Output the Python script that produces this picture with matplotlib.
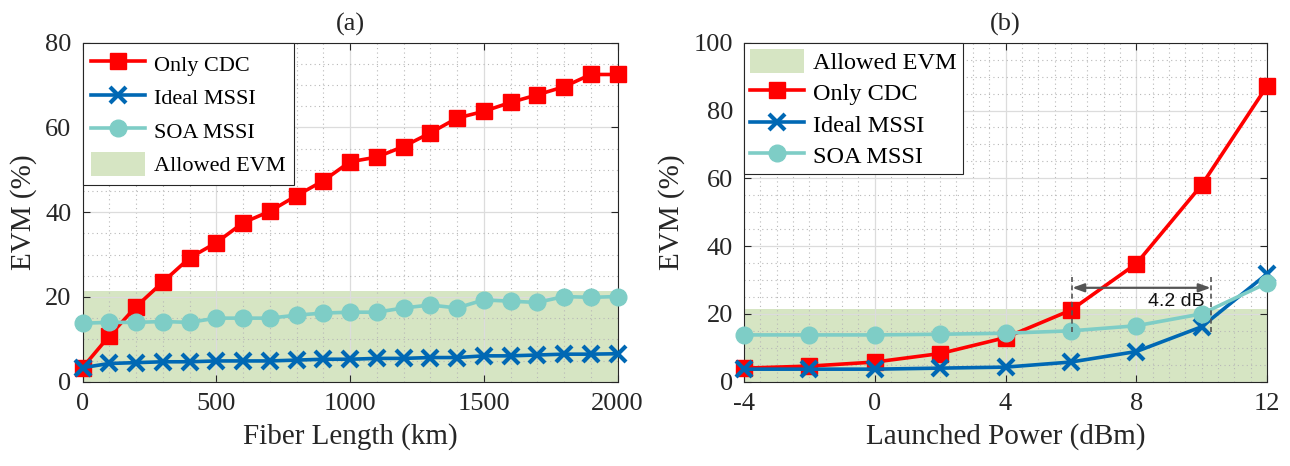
import matplotlib
matplotlib.use("Agg")
import matplotlib.pyplot as plt
from matplotlib.patches import Patch
from matplotlib.lines import Line2D
from matplotlib.ticker import MultipleLocator

plt.rcParams['font.family'] = ['Liberation Serif', 'DejaVu Serif']
plt.rcParams['axes.unicode_minus'] = False

# ---------------- data (a) ----------------
fiber_length = [0, 100, 200, 300, 400, 500, 600, 700, 800, 900, 1000,
                1100, 1200, 1300, 1400, 1500, 1600, 1700, 1800, 1900, 2000]
a_only_cdc = [3.3, 10.8, 17.7, 23.5, 29.2, 32.8, 37.5, 40.2, 43.9, 47.4, 51.9,
              53.0, 55.5, 58.7, 62.2, 63.8, 65.9, 67.7, 69.6, 72.5, 72.5]
a_ideal_mssi = [3.3, 4.3, 4.5, 4.7, 4.7, 4.9, 4.9, 4.9, 5.1, 5.3, 5.3,
                5.5, 5.5, 5.7, 5.7, 6.1, 6.1, 6.3, 6.5, 6.5, 6.6]
a_soa_mssi = [13.8, 14.0, 14.0, 14.2, 14.0, 15.0, 15.0, 15.0, 15.7, 16.2, 16.4,
              16.4, 17.4, 18.1, 17.4, 19.3, 19.0, 18.7, 20.1, 19.9, 20.1]

# ---------------- data (b) ----------------
launched_power = [-4, -2, 0, 2, 4, 6, 8, 10, 12]
b_only_cdc = [4.0, 4.6, 5.8, 8.3, 13.0, 21.1, 34.8, 58.0, 87.2]
b_ideal_mssi = [3.7, 3.7, 3.7, 4.0, 4.3, 5.8, 8.9, 16.2, 31.8]
b_soa_mssi = [13.8, 13.8, 13.8, 14.0, 14.3, 15.0, 16.5, 20.0, 29.1]

allowed_evm = 21.5
gap_start, gap_end, gap_y = 6.04, 10.28, 27.7
gap_label = "4.2 dB"

RED = '#FF0000'
BLUE = '#0068B4'
TEAL = '#7ECDC6'
GREEN = '#D6E5C3'
TXT = '#262626'

W, H = 1290, 466
fig = plt.figure(figsize=(W / 100, H / 100), dpi=100)

axA = fig.add_axes([82.5 / W, (H - 381.7) / H, 535 / W, 339 / H])
axB = fig.add_axes([744 / W, (H - 381.7) / H, 523 / W, 339 / H])

line_kw = dict(lw=2.6, clip_on=False, zorder=3)


def style(ax, xmaj, xmin, ymaj, ymin):
    ax.xaxis.set_major_locator(MultipleLocator(xmaj))
    ax.xaxis.set_minor_locator(MultipleLocator(xmin))
    ax.yaxis.set_major_locator(MultipleLocator(ymaj))
    ax.yaxis.set_minor_locator(MultipleLocator(ymin))
    ax.grid(True, which='major', color='#DCDCDC', lw=0.9, ls='-')
    ax.grid(True, which='minor', color='#B8B8B8', lw=0.8, ls=(0, (1, 3)))
    ax.tick_params(which='both', direction='in', top=True, right=True,
                   labelsize=19, colors=TXT, labelcolor=TXT)
    ax.tick_params(which='major', length=5, width=0.8, pad=8)
    ax.tick_params(which='minor', length=0)
    for s in ax.spines.values():
        s.set_color('#262626')
        s.set_linewidth(0.8)
    ax.set_ylabel('EVM (%)', fontsize=21, color=TXT, labelpad=6)


# ---------- panel (a) ----------
axA.axhspan(0, allowed_evm, color=GREEN, lw=0, zorder=1)
axA.plot(fiber_length, a_only_cdc, color=RED, marker='s', ms=11, **line_kw)
axA.plot(fiber_length, a_ideal_mssi, color=BLUE, marker='x', ms=11, mew=3, **line_kw)
axA.plot(fiber_length, a_soa_mssi, color=TEAL, marker='o', ms=12, **line_kw)
axA.set_xlim(0, 2000)
axA.set_ylim(0, 80)
style(axA, 500, 100, 20, 5)
axA.set_xlabel('Fiber Length (km)', fontsize=21, color=TXT, labelpad=6)
axA.set_title('(a)', fontsize=19, color=TXT, pad=9)

hA = [Line2D([], [], color=RED, marker='s', ms=11, lw=2.6),
      Line2D([], [], color=BLUE, marker='x', ms=11, mew=3, lw=2.6),
      Line2D([], [], color=TEAL, marker='o', ms=12, lw=2.6),
      Patch(facecolor=GREEN, edgecolor='none')]
legA = axA.legend(hA, ['Only CDC', 'Ideal MSSI', 'SOA MSSI', 'Allowed EVM'],
                  loc='upper left', bbox_to_anchor=(0, 1), fontsize=16,
                  frameon=True, fancybox=False, framealpha=1, edgecolor='#262626',
                  handlelength=2.4, handleheight=1.25, handletextpad=0.4,
                  labelspacing=0.42, borderpad=0.4, borderaxespad=0)
legA.get_frame().set_linewidth(0.8)
legA.set_zorder(5)

# ---------- panel (b) ----------
axB.axhspan(0, allowed_evm, color=GREEN, lw=0, zorder=1)
axB.plot(launched_power, b_only_cdc, color=RED, marker='s', ms=11, **line_kw)
axB.plot(launched_power, b_ideal_mssi, color=BLUE, marker='x', ms=11, mew=3, **line_kw)
axB.plot(launched_power, b_soa_mssi, color=TEAL, marker='o', ms=12, **line_kw)
axB.set_xlim(-4, 12)
axB.set_ylim(0, 100)
style(axB, 4, 0.5, 20, 5)
axB.set_xlabel('Launched Power (dBm)', fontsize=21, color=TXT, labelpad=6)
axB.set_title('(b)', fontsize=19, color=TXT, pad=9)

for xv in (gap_start, gap_end):
    axB.plot([xv, xv], [14.7, 31.5], color='#555555', lw=1.2, ls=(0, (3, 2)), zorder=4)
axB.annotate('', xy=(gap_end, gap_y), xytext=(gap_start, gap_y),
             arrowprops=dict(arrowstyle='<|-|>,head_length=0.7,head_width=0.25',
                             color='#555555', lw=1.6, shrinkA=0, shrinkB=0),
             zorder=4)
axB.text(9.23, 23.6, gap_label, fontsize=14, family=['Liberation Sans', 'DejaVu Sans'],
         color='#111111', ha='center', va='center', zorder=4)

hB = [Patch(facecolor=GREEN, edgecolor='none'),
      Line2D([], [], color=RED, marker='s', ms=11, lw=2.6),
      Line2D([], [], color=BLUE, marker='x', ms=11, mew=3, lw=2.6),
      Line2D([], [], color=TEAL, marker='o', ms=12, lw=2.6)]
legB = axB.legend(hB, ['Allowed EVM', 'Only CDC', 'Ideal MSSI', 'SOA MSSI'],
                  loc='upper left', bbox_to_anchor=(0, 1), fontsize=17.5,
                  frameon=True, fancybox=False, framealpha=1, edgecolor='#262626',
                  handlelength=2.2, handleheight=1.15, handletextpad=0.4,
                  labelspacing=0.25, borderpad=0.25, borderaxespad=0)
legB.get_frame().set_linewidth(0.8)
legB.set_zorder(5)

fig.savefig('out.png', dpi=100)
